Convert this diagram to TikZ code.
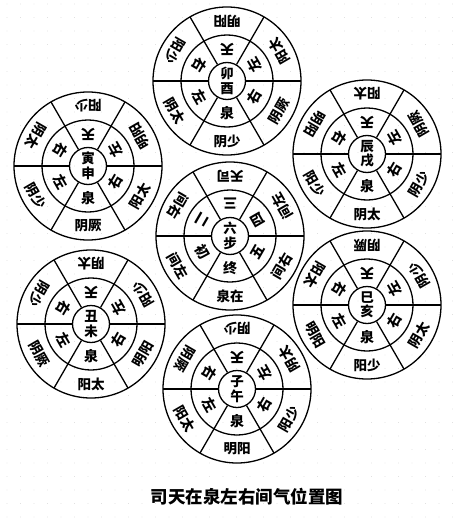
\documentclass[tikz,border=0pt]{standalone}
\usepackage{fontspec}
\newfontfamily\cjk{Noto Sans CJK SC}
\usetikzlibrary{positioning,calc}

% one wheel: name, centre, hub text, middle ring, outer ring (clockwise from top)
\newcommand{\wheel}[5]{%
  \node [hub] (#1) at (#2) {#3};
  \draw [ring] (#1) circle (46pt);
  \draw [ring] (#1) circle (74pt);
  \foreach \a in {0,60,...,300}
    \draw [ring] (#1.\a) -- ($(#1)+(\a:74pt)$);
  \foreach \t [count=\i] in {#4}
    \node [midlab, rotate={240-60*\i}] (#1m\i) at ($(#1)+({150-60*\i}:32pt)$) {\t};
  \foreach \t [count=\i] in {#5}
    \node [outlab, rotate={240-60*\i}] (#1o\i) at ($(#1)+({150-60*\i}:60pt)$) {\t};
}

\begin{document}
\begin{tikzpicture}[x=1pt, y=-1pt]
\tikzstyle{ring} = [line width=1.3pt, black]
\tikzstyle{hub} = [circle, draw, line width=1.3pt, minimum size=37pt, inner sep=0pt, align=center, font=\cjk\bfseries\fontsize{13.5}{14.5}\selectfont]
\tikzstyle{midlab} = [inner sep=0pt, font=\cjk\bfseries\fontsize{14}{14}\selectfont]
\tikzstyle{outlab} = [inner sep=0pt, font=\cjk\bfseries\fontsize{13.5}{14}\selectfont]
\tikzstyle{title} = [inner sep=0pt, font=\cjk\bfseries\fontsize{17.5}{17.5}\selectfont]

\useasboundingbox [fill=white] (0,0) rectangle (455,519);

% screen-tone dots
\foreach \x in {0,...,33}
  \foreach \y in {0,...,38}
    \fill [gray!35] (7+13.5*\x, 4+13.5*\y) circle (0.45pt);

\wheel{maoyou}{227,81}{卯\\酉}{天,左,右,泉,左,右}{明阳,阳太,阴厥,阴少,阴太,阳少}
\wheel{yinshen}{88,166}{寅\\申}{天,左,右,泉,左,右}{阳少,明阳,阳太,阴厥,阴少,阴太}
\wheel{chenxu}{367,154}{辰\\戌}{天,左,右,泉,左,右}{阳太,阴厥,阴少,阴太,阳少,明阳}
\wheel{liubu}{230,236}{六\\步}{三,四,五,终,初,二}{天司,间左,间右,泉在,间左,间右}
\wheel{chouwei}{91,324}{丑\\未}{天,左,右,泉,左,右}{阴太,阳少,明阳,阳太,阴厥,阴少}
\wheel{sihai}{367,305}{巳\\亥}{天,左,右,泉,左,右}{阴厥,阴少,阴太,阳少,明阳,阳太}
\wheel{ziwu}{237,389}{子\\午}{天,左,右,泉,左,右}{阴少,阴太,阳少,明阳,阳太,阴厥}

\node [title] (caption) at (247,497) {司天在泉左右间气位置图};
\end{tikzpicture}
\end{document}
